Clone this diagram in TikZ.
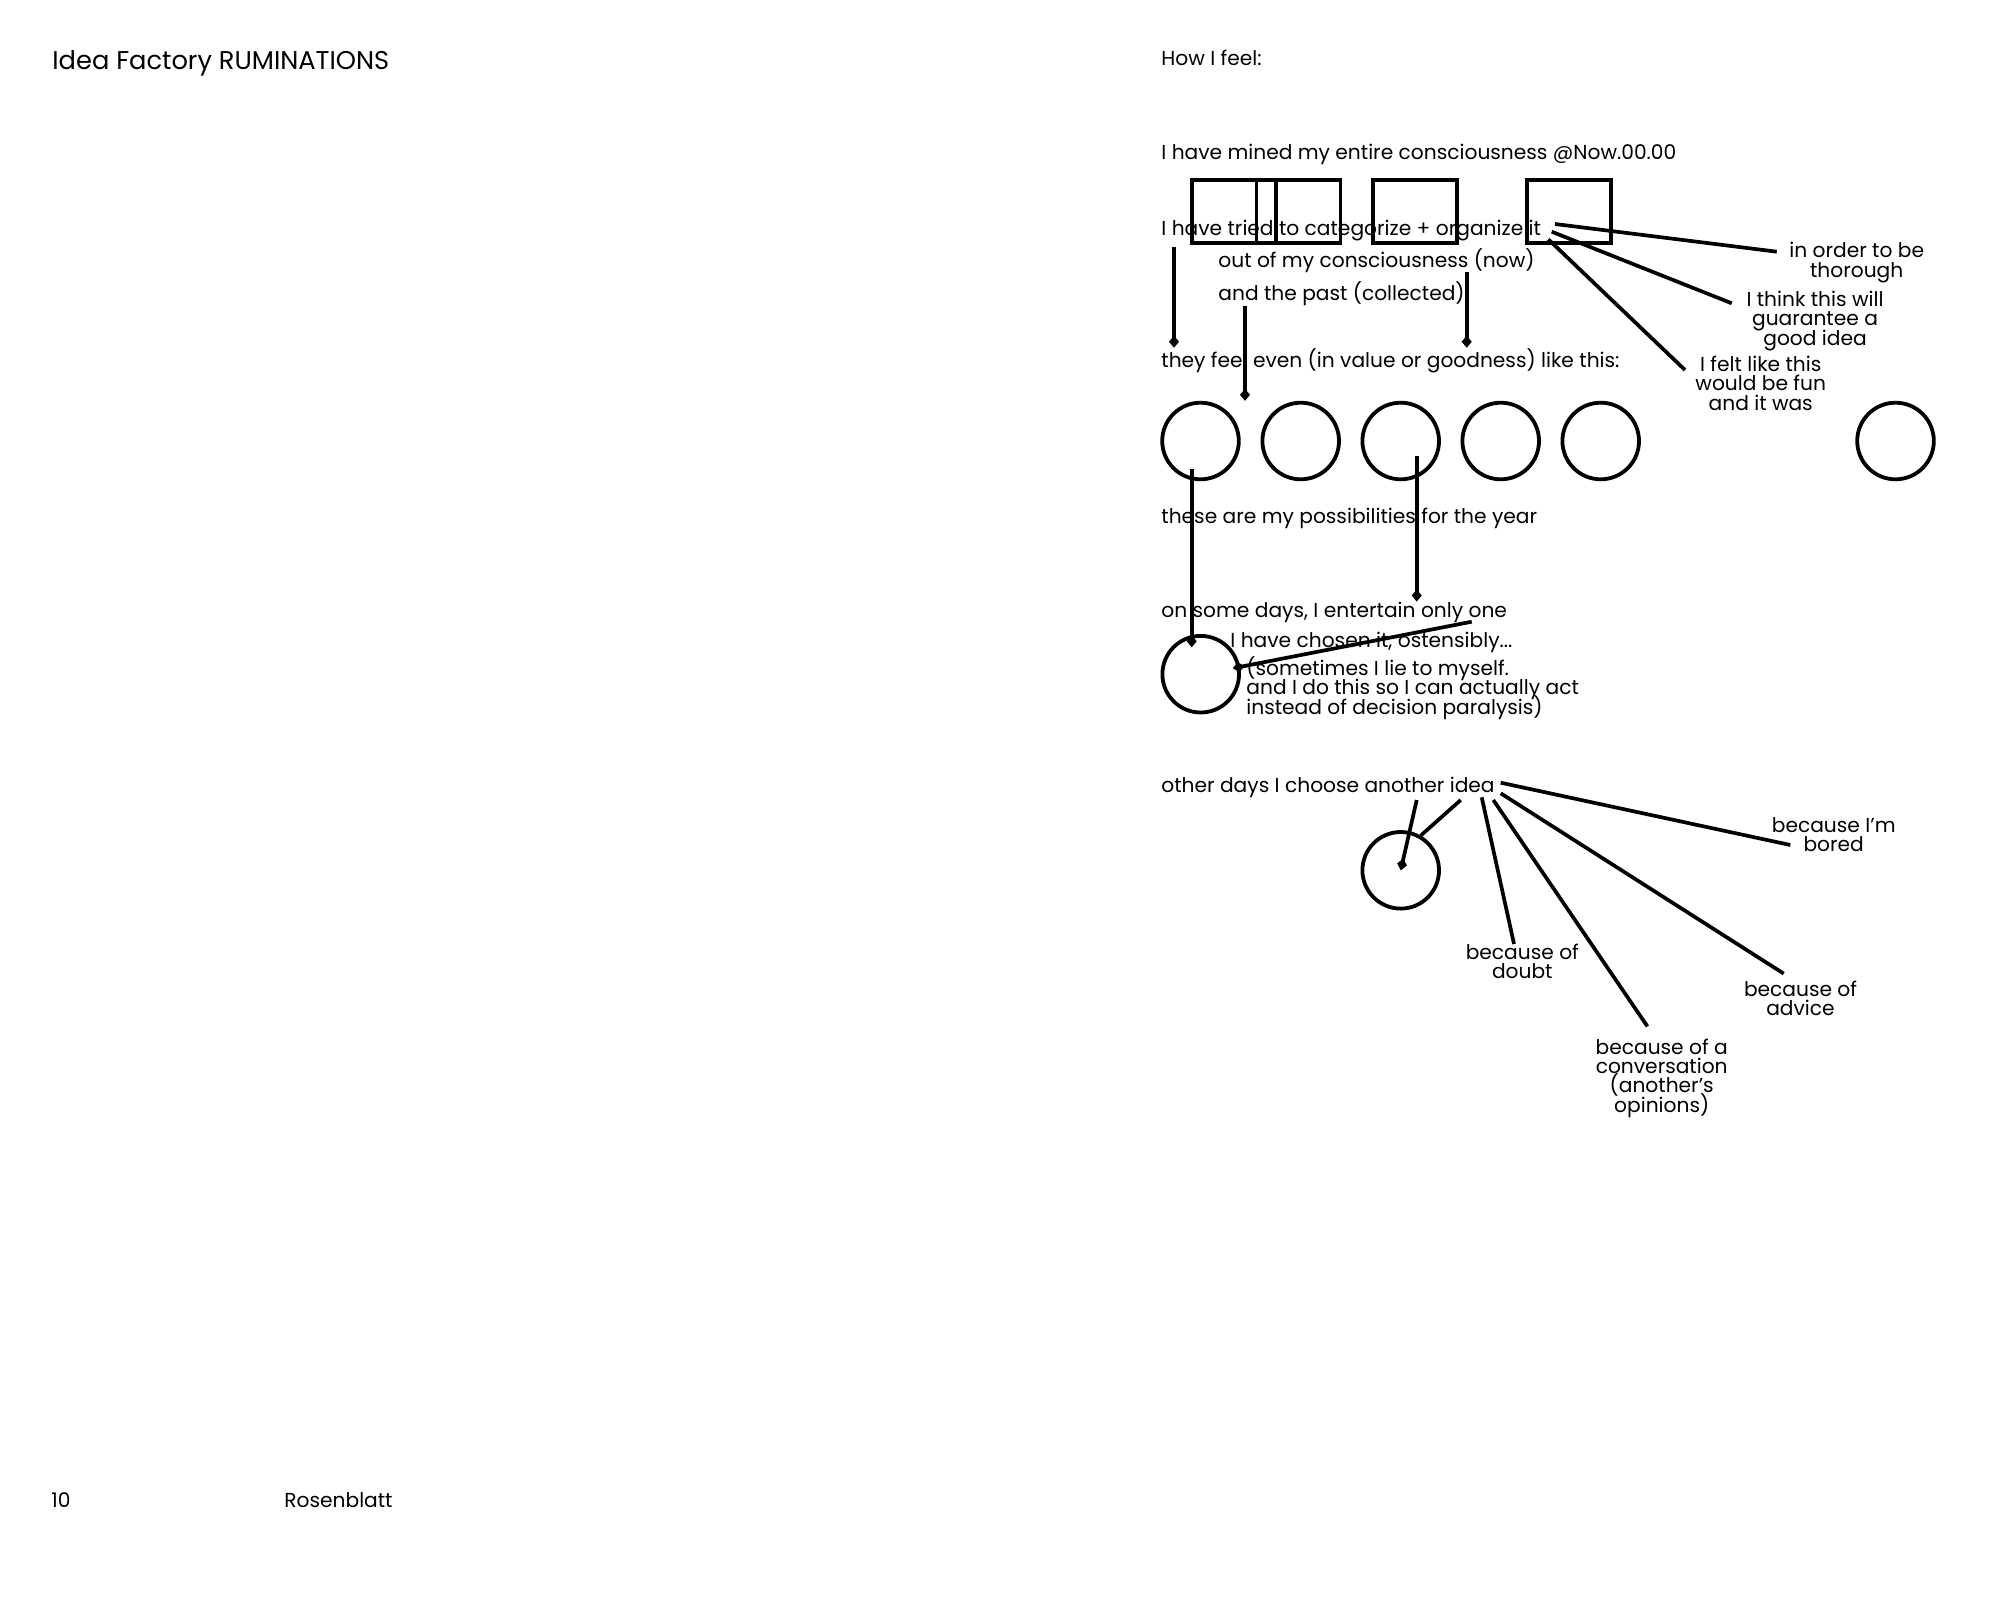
\documentclass[tikz,border=0pt]{standalone}
\usepackage{fontspec}
\setmainfont{Poppins}
\usetikzlibrary{arrows.meta}
\newcommand\bodyfont{\fontsize{10.1}{9.65}\selectfont\lineskiplimit=-\maxdimen}
\newcommand\headfont{\fontsize{12.85}{13}\selectfont}

\begin{document}
\begin{tikzpicture}[x=0.5pt, y=-0.5pt,
    txt/.style={anchor=base west, inner sep=0pt, font=\bodyfont},
    note/.style={anchor=base, inner sep=0pt, align=center, font=\bodyfont},
    cell/.style={draw, line width=1.9pt, minimum width=42pt, minimum height=31.7pt, inner sep=0pt},
    blob/.style={draw, circle, line width=1.9pt, minimum size=38.3pt, inner sep=0pt},
    wire/.style={line width=1.85pt},
    tip/.style={wire, -{Diamond[length=6pt, width=5pt]}}]
 	\fill [white] (0,0) rectangle (2000,1600);
 	\useasboundingbox (0,0) rectangle (2000,1600);

 	\node [txt, font=\headfont] (hdr) at (52,69) {Idea Factory RUMINATIONS};
 	\node [txt] (page) at (51,1507) {10};
 	\node [txt] (name) at (284,1507) {Rosenblatt};

 	\node [txt] (feel) at (1161,66) {How I feel:};
 	\node [txt] (mined) at (1161,159) {I have mined my entire consciousness @Now.00.00};

 	\node [cell] (b1) at (1233.9,211.4) {};
 	\node [cell] (b2) at (1298.4,211.4) {};
 	\node [cell] (b3) at (1415,211.4) {};
 	\node [cell] (b4) at (1569.2,211.4) {};

 	\node [txt] (tried) at (1161,235) {I have tried to categorize + organize it};
 	\node [txt] (outof) at (1218,267) {out of my consciousness (now)};
 	\node [txt] (past) at (1218,300) {and the past (collected)};
 	\node [txt] (even) at (1161,367) {they feel even (in value or goodness) like this:};

 	\node [note] (thor) at (1856.7,277) {in order to be\\thorough};
 	\node [note] (guar) at (1815,345) {I think this will\\guarantee a\\good idea};
 	\node [note] (fun) at (1760.7,410) {I felt like this\\would be fun\\and it was};

 	\node [blob] (o1) at (1200.5,441) {};
 	\node [blob] (o2) at (1300.7,441) {};
 	\node [blob] (o3) at (1400.7,441) {};
 	\node [blob] (o4) at (1500.7,441) {};
 	\node [blob] (o5) at (1600.7,441) {};
 	\node [blob] (o6) at (1895.5,441) {};

 	\node [txt] (poss) at (1161,523.3) {these are my possibilities for the year};
 	\node [txt] (some) at (1161,617.3) {on some days, I entertain only one};
 	\node [txt] (chosen) at (1230,647.3) {I have chosen it, ostensibly...};
 	\node [txt, align=left] (lie) at (1246,714) {(sometimes I lie to myself.\\and I do this so I can actually act\\instead of decision paralysis)};
 	\node [blob] (one) at (1200.7,674.2) {};

 	\node [txt] (other) at (1161,792.3) {other days I choose another idea};
 	\node [blob] (alt) at (1400.7,870.3) {};

 	\node [note] (bored) at (1833.7,851.4) {because I'm\\bored};
 	\node [note] (doubt) at (1522.3,978.3) {because of\\doubt};
 	\node [note] (advice) at (1800.5,1015.7) {because of\\advice};
 	\node [note] (convo) at (1661.7,1112) {because of a\\conversation\\(another's\\opinions)};

 	\coordinate (t1) at (1174,247);
 	\coordinate (t2) at (1245,306);
 	\coordinate (t3) at (1466.7,272);
 	\coordinate (it1) at (1555,224);
 	\coordinate (it2) at (1551.7,231.7);
 	\coordinate (it3) at (1548.3,239.3);
 	\coordinate (thor') at (1776.7,251.7);
 	\coordinate (guar') at (1731.7,303.3);
 	\coordinate (fun') at (1685,370);
 	\coordinate (poss1) at (1191.7,469.3);
 	\coordinate (poss3) at (1416.7,456);
 	\coordinate (some') at (1471.7,621.7);
 	\coordinate (lie') at (1232.7,668.3);
 	\coordinate (id1) at (1416.7,800);
 	\coordinate (id2) at (1460.7,800);
 	\coordinate (id3) at (1481.7,797.3);
 	\coordinate (id4) at (1493.3,800);
 	\coordinate (id5) at (1500.7,793.3);
 	\coordinate (id6) at (1500.7,782.7);
 	\coordinate (doubt') at (1514,944);
 	\coordinate (convo') at (1647.4,1026.4);
 	\coordinate (advice') at (1783.7,973.6);
 	\coordinate (bored') at (1790.3,845);

 	\draw [tip] (t1) -- (t1 |- even.north);
 	\draw [tip] (t2) -- (t2 |- o2.north);
 	\draw [tip] (t3) -- (t3 |- even.north);
 	\draw [wire] (it1) -- (thor');
 	\draw [wire] (it2) -- (guar');
 	\draw [wire] (it3) -- (fun');

 	\draw [tip] (poss1) -- (poss1 |- chosen.base);
 	\draw [tip] (poss3) -- (poss3 |- some.north);
 	\draw [tip] (some') -- (lie');

 	\draw [tip] (id1) -- (alt.center);
 	\draw [wire] (id2) -- (alt.60);
 	\draw [wire] (id3) -- (doubt');
 	\draw [wire] (id4) -- (convo');
 	\draw [wire] (id5) -- (advice');
 	\draw [wire] (id6) -- (bored');
\end{tikzpicture}
\end{document}
